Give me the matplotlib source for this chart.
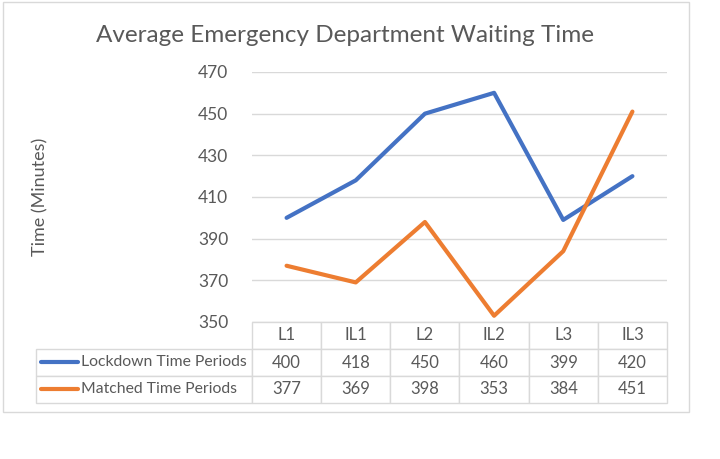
import matplotlib.pyplot as plt
from matplotlib.lines import Line2D
from matplotlib.patches import Rectangle

periods = ["L1", "IL1", "L2", "IL2", "L3", "IL3"]
lockdown = [400, 418, 450, 460, 399, 420]
matched = [377, 369, 398, 353, 384, 451]
series_names = ["Lockdown Time Periods", "Matched Time Periods"]
yticks = [350, 370, 390, 410, 430, 450, 470]

blue = "#4472C4"
orange = "#ED7D31"
txt = "#595959"
grid = "#D9D9D9"

plt.rcParams["font.family"] = ["Lato", "DejaVu Sans"]

W, H = 720, 459
fig = plt.figure(figsize=(7.2, 4.59), dpi=100)
# plot area in pixels: x 252..667, y 72..322
ax = fig.add_axes([252 / W, 1 - 322 / H, 415 / W, 250 / H])

x = list(range(len(periods)))
ax.plot(x, lockdown, color=blue, lw=3, solid_capstyle="round", zorder=3)
ax.plot(x, matched, color=orange, lw=3, solid_capstyle="round", zorder=3)

ax.set_xlim(-0.5, len(periods) - 0.5)
ax.set_ylim(350, 470)
ax.set_yticks(yticks)
ax.set_xticks([])
ax.tick_params(axis="y", length=0, pad=17, labelsize=12.5, labelcolor=txt)
for s in ax.spines.values():
    s.set_visible(False)
ax.grid(axis="y", color=grid, lw=1)
ax.set_axisbelow(True)

# data table under the plot
cells = [[""] + periods,
         [""] + [str(v) for v in lockdown],
         [""] + [str(v) for v in matched]]
lab_w = 216 / 415
col_w = 1.0 / len(periods)
tbl = ax.table(cellText=cells, colWidths=[lab_w] + [col_w] * len(periods),
               cellLoc="center", bbox=[-lab_w, -81 / 250, 1 + lab_w, 81 / 250])
tbl.auto_set_font_size(False)
tbl.set_fontsize(12)
for (r, c), cell in tbl.get_celld().items():
    cell.set_edgecolor(grid)
    cell.set_linewidth(1)
    cell.get_text().set_color(txt)
    if r == 0 and c == 0:
        cell.visible_edges = ""

# row labels with legend keys
for r, (name, col) in enumerate([(series_names[0], blue), (series_names[1], orange)], start=1):
    yc = -(26 + 27.5 * (r - 0.5)) / 250
    ax.add_line(Line2D([(41 - 252) / 415, (78 - 252) / 415], [yc, yc], transform=ax.transAxes,
                       color=col, lw=3, solid_capstyle="round", clip_on=False))
    ax.text((81 - 252) / 415, yc, name, transform=ax.transAxes, ha="left", va="center",
            fontsize=11.3, color=txt)

fig.text(345 / W, 1 - 35 / H, "Average Emergency Department Waiting Time",
         ha="center", va="center", fontsize=17.5, color=txt)
fig.text(40 / W, 1 - 197 / H, "Time (Minutes)", rotation=90,
         ha="center", va="center", fontsize=13, color=txt)

fig.add_artist(Rectangle((3 / W, 1 - 412 / H), 686 / W, 410 / H, transform=fig.transFigure,
                         fill=False, edgecolor=grid, lw=1))

fig.savefig("out.png", dpi=100)
